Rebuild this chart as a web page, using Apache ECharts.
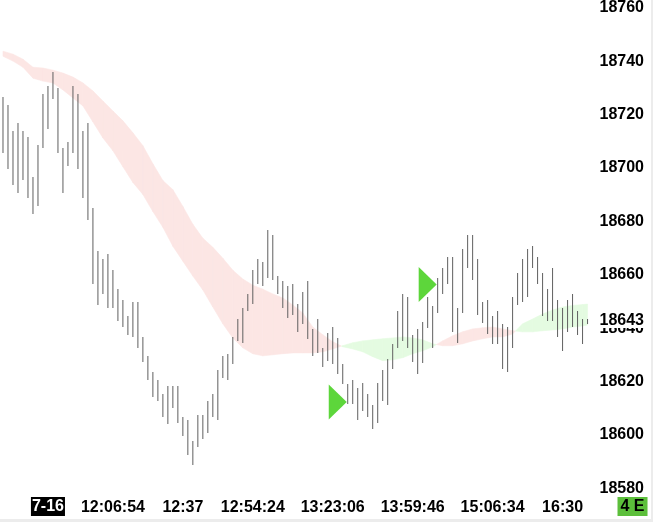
<!DOCTYPE html>
<html><head><meta charset="utf-8">
<script src="https://cdn.jsdelivr.net/npm/echarts@6/dist/echarts.min.js"></script>
<style>
html,body{margin:0;padding:0;background:#ececec;width:653px;height:522px;overflow:hidden}
#c{width:651px;height:519px;background:#fff}
</style>
</head><body><div id="c"></div>
<script>
// ---- data ----
const barHigh = [18726.6,18723.7,18714.0,18716.9,18714.0,18711.7,18696.8,18708.7,18727.8,18730.7,
18736.0,18730.0,18707.6,18709.9,18730.7,18727.8,18714.0,18716.9,18684.9,18668.8,
18665.8,18667.7,18661.7,18654.6,18650.5,18644.6,18649.8,18649.8,18636.7,18629.6,
18623.7,18620.7,18615.4,18618.4,18618.4,18618.4,18606.5,18605.4,18597.5,18607.6,
18607.6,18612.5,18615.4,18624.4,18629.6,18630.4,18636.7,18643.4,18647.5,18652.8,
18661.7,18665.8,18664.7,18676.6,18674.8,18659.5,18657.6,18655.7,18656.5,18649.0,
18653.5,18657.6,18639.7,18643.4,18632.6,18638.2,18640.4,18636.3,18626.6,18619.2,
18620.7,18617.7,18619.6,18615.4,18611.3,18619.6,18624.4,18628.5,18634.1,18646.4,
18652.8,18651.6,18637.5,18639.7,18642.3,18651.6,18648.3,18658.7,18662.5,18666.6,
18666.6,18647.5,18669.6,18674.8,18674.8,18665.8,18649.8,18650.5,18644.6,18646.4,
18641.6,18640.4,18651.6,18660.6,18665.8,18669.6,18670.7,18666.6,18660.6,18654.6,
18662.5,18650.5,18647.5,18650.5,18652.8,18646.4,18643.4,18643.4];
const barLow = [18705.7,18699.8,18693.8,18690.8,18695.7,18688.6,18682.6,18685.6,18707.6,18714.7,
18725.9,18705.7,18690.8,18700.9,18705.7,18699.8,18688.6,18680.7,18656.5,18648.7,
18652.8,18647.5,18647.5,18642.7,18640.4,18637.5,18636.7,18632.6,18627.4,18620.7,
18614.3,18612.5,18606.5,18603.9,18609.9,18604.6,18599.4,18592.3,18588.6,18595.3,
18598.3,18600.5,18606.5,18605.4,18621.4,18620.7,18626.6,18635.2,18634.5,18646.4,
18649.0,18656.5,18655.7,18658.7,18658.0,18652.8,18647.5,18643.8,18644.9,18638.6,
18641.6,18636.0,18629.6,18630.7,18625.5,18627.8,18626.6,18622.9,18619.2,18611.7,
18611.7,18605.7,18609.1,18606.5,18602.0,18604.6,18612.8,18611.0,18624.8,18632.6,
18635.2,18632.6,18627.4,18622.9,18627.0,18640.1,18632.6,18645.7,18652.8,18656.5,
18638.6,18634.5,18645.7,18662.5,18658.0,18644.9,18641.9,18637.8,18634.1,18634.1,
18624.8,18623.7,18632.6,18648.7,18649.8,18651.6,18662.5,18656.5,18644.6,18642.7,
18642.7,18636.7,18631.5,18638.6,18640.4,18637.5,18634.1,18641.6];
const bandIdx = [0,2,4,6,8,10,12,14,16,18,20,22,24,26,28,30,32,34,36,38,40,42,44,46,48,50,52,54,56,58,
60,62,64,66,68,70,72,74,76,78,80,82,84,86,88,90,92,94,96,98,100,102,104,106,108,110,112,114,116,117];
const bandA = [18743.8,18742.7,18740.8,18737.8,18737.5,18736.7,18735.6,18734.1,18731.9,18728.9,
18725.1,18721.4,18717.7,18713.2,18708.4,18701.6,18695.3,18691.9,18685.6,18678.9,
18673.7,18670.3,18666.2,18661.7,18658.4,18656.1,18654.6,18652.8,18651.3,18648.7,
18645.7,18640.4,18637.5,18634.9,18633.0,18632.2,18631.1,18629.3,18627.8,18628.1,
18628.9,18630.4,18631.5,18633.0,18635.2,18637.1,18638.6,18639.7,18640.1,18640.4,
18639.7,18639.0,18638.6,18638.6,18639.0,18639.3,18639.7,18640.4,18640.8,18641.2];
const bandB = [18741.9,18740.1,18737.8,18733.7,18732.6,18731.9,18729.3,18726.3,18723.3,18717.3,
18711.3,18706.5,18700.5,18694.6,18690.1,18683.7,18677.8,18670.7,18665.1,18659.5,
18654.3,18647.9,18641.6,18636.3,18632.6,18630.4,18629.6,18630.0,18630.4,18630.7,
18630.7,18630.7,18631.1,18632.2,18633.4,18634.5,18635.2,18635.6,18636.0,18636.3,
18636.7,18636.3,18635.6,18634.1,18633.4,18633.4,18634.1,18635.2,18636.0,18636.7,
18636.7,18637.8,18641.6,18643.4,18645.3,18646.8,18647.9,18648.5,18648.8,18649.0];
const signalIdx = [67, 85];
const signalVal = [18612.3, 18656.3];
const lastPrice = 18643;
const yTicks = [18580,18600,18620,18640,18660,18680,18700,18720,18740,18760];
const xLabelIdx = [9,22,36,50,66,82,98,112,126];
const xLabelText = ['7-16','12:06:54','12:37','12:54:24','13:23:06','13:59:46','15:06:34','16:30','4 E'];
const slotCount = 130;

// ---- build ----
const FONT = '"Liberation Sans", Arial, sans-serif';
const RED = '#fce6e4', GREEN = '#e4fbe1';
const categories = [];
for (let i = 0; i < slotCount; i++) {
  const k = xLabelIdx.indexOf(i);
  categories.push(k >= 0 ? xLabelText[k] : '');
}
const barData = barHigh.map((h, i) => [i, h, barLow[i]]);
const bandData = [];
for (let k = 0; k < bandIdx.length - 1; k++) {
  bandData.push([bandIdx[k], bandA[k], bandB[k], bandIdx[k+1], bandA[k+1], bandB[k+1]]);
}
const signalData = signalIdx.map((i, k) => [i, signalVal[k]]);

function poly(points, color) {
  return {type: 'polygon', shape: {points}, style: {fill: color, stroke: color, lineWidth: 0.6}};
}
function renderBand(params, api) {
  const i0 = api.value(0), a0 = api.value(1), b0 = api.value(2);
  const i1 = api.value(3), a1 = api.value(4), b1 = api.value(5);
  const pA0 = api.coord([i0, a0]), pB0 = api.coord([i0, b0]);
  const pA1 = api.coord([i1, a1]), pB1 = api.coord([i1, b1]);
  const d0 = a0 - b0, d1 = a1 - b1;
  const col = d => d >= 0 ? RED : GREEN;
  if (d0 * d1 >= 0) {
    return poly([pA0, pA1, pB1, pB0], col(d0 + d1));
  }
  const t = d0 / (d0 - d1);
  const X = [pA0[0] + t * (pA1[0] - pA0[0]), pA0[1] + t * (pA1[1] - pA0[1])];
  return {type: 'group', children: [poly([pA0, X, pB0], col(d0)), poly([X, pA1, pB1], col(d1))]};
}
function renderBar(params, api) {
  const i = api.value(0);
  const hi = api.coord([i, api.value(1)]);
  const lo = api.coord([i, api.value(2)]);
  return {type: 'line', shape: {x1: hi[0], y1: Math.round(hi[1]), x2: lo[0], y2: Math.round(lo[1])},
          style: {stroke: '#5f5f5f', lineWidth: 1}};
}

const yMin = 18580 - 31 / 2.68, yMax = 18580 + 488 / 2.68;
const yLabelBase = {inside: true, margin: 6, fontFamily: FONT, fontSize: 16, fontWeight: 'bold', color: '#000',
                    formatter: function (v) { return String(Math.round(v)); }};

const chart = echarts.init(document.getElementById('c'), null, {renderer: 'canvas'});
chart.setOption({
  animation: false,
  backgroundColor: '#fff',
  grid: {left: 0, top: 0, width: 650, height: 519, containLabel: false},
  xAxis: {
    type: 'category', data: categories, boundaryGap: true,
    axisLine: {show: false}, axisTick: {show: false}, splitLine: {show: false},
    axisLabel: {
      inside: true, interval: 0, margin: 3, fontFamily: FONT, fontSize: 16, fontWeight: 'bold', color: '#000',
      formatter: function (v) {
        if (v === '') return '';
        if (v === xLabelText[0]) return '{d|' + v + '}';
        if (v === xLabelText[xLabelText.length - 1]) return '{e|' + v + '}';
        return v;
      },
      rich: {
        d: {backgroundColor: '#000', color: '#fff', fontFamily: FONT, fontSize: 16, fontWeight: 'bold', padding: [2, 1, 1, 1]},
        e: {backgroundColor: '#5cbf3b', color: '#000', fontFamily: FONT, fontSize: 16, fontWeight: 'bold', padding: [2, 3, 1, 3]}
      }
    }
  },
  yAxis: [
    {
      type: 'value', position: 'right', min: yMin, max: yMax, z: 0,
      axisLine: {show: false}, axisTick: {show: false}, splitLine: {show: false},
      axisLabel: Object.assign({customValues: yTicks}, yLabelBase)
    },
    {
      type: 'value', position: 'right', min: yMin, max: yMax, z: 5,
      axisLine: {show: false}, axisTick: {show: false}, splitLine: {show: false},
      axisLabel: Object.assign({customValues: [lastPrice], backgroundColor: '#fff', padding: [0, 0, 0, 2]}, yLabelBase)
    }
  ],
  series: [
    {type: 'custom', name: 'band', renderItem: renderBand, data: bandData, encode: {x: 0, y: [1, 2]}, silent: true, z: 1},
    {type: 'custom', name: 'bars', renderItem: renderBar, data: barData, encode: {x: 0, y: [1, 2]}, silent: true, z: 2},
    {type: 'scatter', name: 'signals', data: signalData, symbol: 'triangle', symbolRotate: -90, symbolSize: [35, 18],
     itemStyle: {color: '#5dd63b', opacity: 1}, z: 3, silent: true}
  ]
});
</script>
</body></html>
